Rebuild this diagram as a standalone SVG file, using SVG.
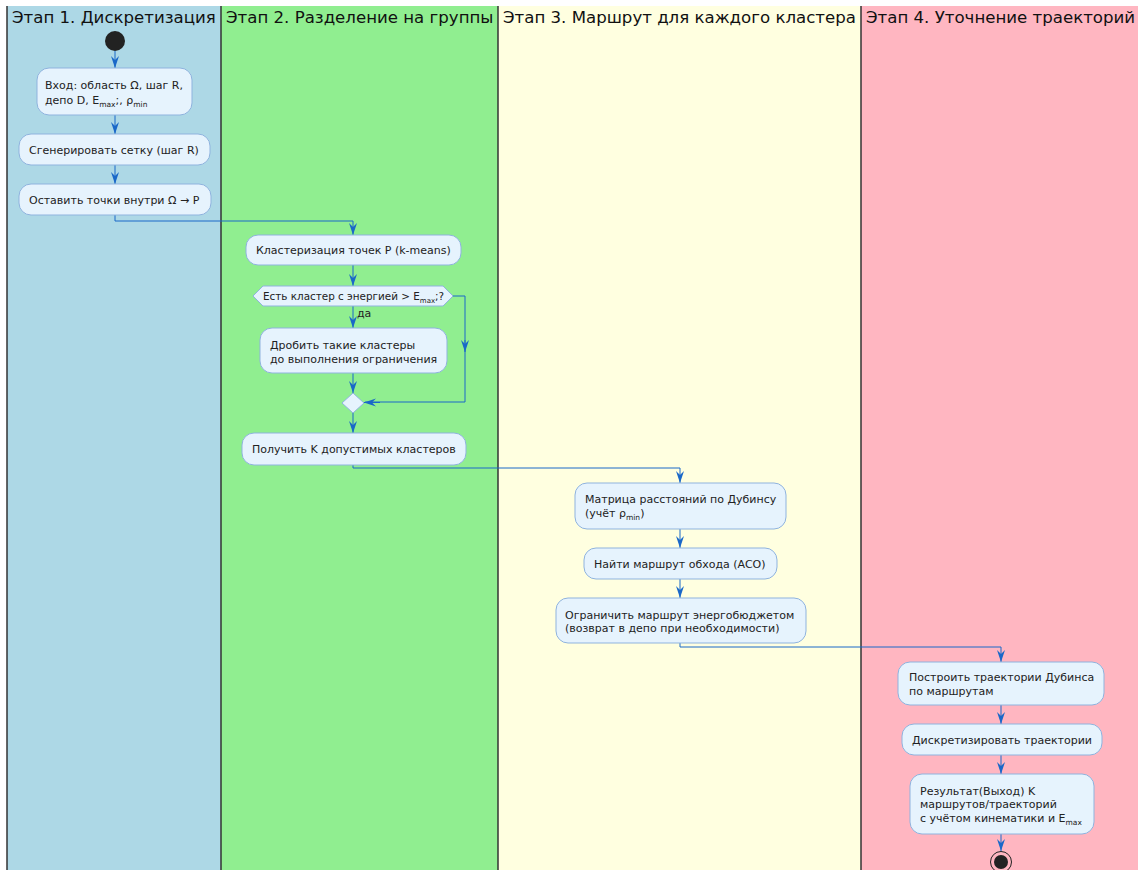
<svg xmlns="http://www.w3.org/2000/svg" width="1140" height="870" viewBox="0 0 1140 870">
<style>
.lane-title{font-family:"DejaVu Sans",sans-serif;font-size:16.6px;fill:#111}
.t{font-family:"DejaVu Sans",sans-serif;font-size:11px;fill:#222}
.sub{font-size:7.5px}
.box{fill:#E6F3FD;stroke:#8FB3DE;stroke-width:1}
.sep{stroke:#333;stroke-width:1.5}
.edge{fill:none;stroke:#1A68C8;stroke-width:1}
</style>
<defs>
<marker id="ah" viewBox="0 0 12 10" refX="12" refY="5" markerWidth="12" markerHeight="10" markerUnits="userSpaceOnUse" orient="auto">
<path d="M0,1 L4,5 L0,9 L12,5 Z" fill="#1A68C8"/>
</marker>
</defs>
<rect width="1140" height="870" fill="#ffffff"/>
<g id="lanes">
<rect x="7" y="6" width="214" height="864" fill="#ADD8E6"/>
<rect x="221" y="6" width="277" height="864" fill="#90EE90"/>
<rect x="498" y="6" width="363" height="864" fill="#FFFFE0"/>
<rect x="861" y="6" width="277" height="864" fill="#FFB6C1"/>
<line class="sep" x1="7" y1="6" x2="7" y2="870"/>
<line class="sep" x1="221" y1="6" x2="221" y2="870"/>
<line class="sep" x1="498" y1="6" x2="498" y2="870"/>
<line class="sep" x1="861" y1="6" x2="861" y2="870"/>
<text class="lane-title" x="12" y="23">Этап 1. Дискретизация</text>
<text class="lane-title" x="226" y="23">Этап 2. Разделение на группы</text>
<text class="lane-title" x="503" y="23">Этап 3. Маршрут для каждого кластера</text>
<text class="lane-title" x="866" y="23">Этап 4. Уточнение траекторий</text>
</g>
<g id="connectors">
<path class="edge" d="M115,51 V68" marker-end="url(#ah)"/>
<path class="edge" d="M115,115 V134" marker-end="url(#ah)"/>
<path class="edge" d="M115,165 V184" marker-end="url(#ah)"/>
<path class="edge" d="M115,215 V221 H353 V235" marker-end="url(#ah)"/>
<path class="edge" d="M353,265 V286" marker-end="url(#ah)"/>
<path class="edge" d="M353,306 V328" marker-end="url(#ah)"/>
<path class="edge" d="M353,373 V393" marker-end="url(#ah)"/>
<path class="edge" d="M453,296 H465 V402 H365"/>
<path class="edge" d="M465,340 V352" marker-end="url(#ah)"/>
<path class="edge" d="M380,402.5 H364" marker-end="url(#ah)"/>
<path class="edge" d="M353,413 V433" marker-end="url(#ah)"/>
<path class="edge" d="M353,465 V468 H680 V483" marker-end="url(#ah)"/>
<path class="edge" d="M680,529 V548" marker-end="url(#ah)"/>
<path class="edge" d="M680,579 V598" marker-end="url(#ah)"/>
<path class="edge" d="M680,643 V647 H1001 V662" marker-end="url(#ah)"/>
<path class="edge" d="M1001,705 V724" marker-end="url(#ah)"/>
<path class="edge" d="M1001,755 V774" marker-end="url(#ah)"/>
<path class="edge" d="M1001,834 V851" marker-end="url(#ah)"/>
<text class="t" x="357" y="317">да</text>
</g>
<g id="start"><circle cx="115" cy="41" r="10" fill="#222"/></g>
<g id="n1">
<rect class="box" x="37" y="68" width="155" height="47" rx="12"/>
<text class="t" x="45" y="89">Вход: область Ω, шаг R,</text>
<text class="t" x="45" y="104">депо D, E<tspan class="sub" dy="3">max</tspan><tspan dy="-3">;, ρ</tspan><tspan class="sub" dy="3">min</tspan></text>
</g>
<g id="n2">
<rect class="box" x="19" y="134" width="191" height="31" rx="12"/>
<text class="t" x="29" y="154">Сгенерировать сетку (шаг R)</text>
</g>
<g id="n3">
<rect class="box" x="19" y="184" width="192" height="31" rx="12"/>
<text class="t" x="29" y="204">Оставить точки внутри Ω → P</text>
</g>
<g id="n4">
<rect class="box" x="246" y="235" width="215" height="30" rx="12"/>
<text class="t" x="256" y="254">Кластеризация точек P (k-means)</text>
</g>
<g id="d1">
<polygon class="box" points="253,296 263,286 443,286 453,296 443,306 263,306"/>
<text class="t" x="263" y="300" style="font-size:10.4px">Есть кластер с энергией &gt; E<tspan class="sub" dy="3" style="font-size:7px">max</tspan><tspan dy="-3">;?</tspan></text>
</g>
<g id="n5">
<rect class="box" x="260" y="328" width="187" height="45" rx="12"/>
<text class="t" x="270" y="349">Дробить такие кластеры</text>
<text class="t" x="270" y="363">до выполнения ограничения</text>
</g>
<g id="m1">
<polygon class="box" points="353,393 364,403 353,413 342,403"/>
</g>
<g id="n6">
<rect class="box" x="242" y="433" width="224" height="32" rx="12"/>
<text class="t" x="252" y="453">Получить K допустимых кластеров</text>
</g>
<g id="n7">
<rect class="box" x="575" y="483" width="211" height="46" rx="12"/>
<text class="t" x="585" y="503">Матрица расстояний по Дубинсу</text>
<text class="t" x="585" y="517">(учёт ρ<tspan class="sub" dy="3">min</tspan><tspan dy="-3">)</tspan></text>
</g>
<g id="n8">
<rect class="box" x="584" y="548" width="193" height="31" rx="12"/>
<text class="t" x="594" y="568">Найти маршрут обхода (ACO)</text>
</g>
<g id="n9">
<rect class="box" x="556" y="598" width="250" height="45" rx="12"/>
<text class="t" x="565" y="619">Ограничить маршрут энергобюджетом</text>
<text class="t" x="565" y="632">(возврат в депо при необходимости)</text>
</g>
<g id="n10">
<rect class="box" x="898" y="662" width="206" height="43" rx="12"/>
<text class="t" x="909" y="681">Построить траектории Дубинса</text>
<text class="t" x="909" y="695">по маршрутам</text>
</g>
<g id="n11">
<rect class="box" x="902" y="724" width="200" height="31" rx="12"/>
<text class="t" x="912" y="744">Дискретизировать траектории</text>
</g>
<g id="n12">
<rect class="box" x="910" y="774" width="184" height="60" rx="12"/>
<text class="t" x="920" y="795">Результат(Выход) K</text>
<text class="t" x="920" y="808">маршрутов/траекторий</text>
<text class="t" x="920" y="822">с учётом кинематики и E<tspan class="sub" dy="3">max</tspan></text>
</g>
<g id="end">
<circle cx="1001" cy="862" r="10.5" fill="none" stroke="#222" stroke-width="1"/>
<circle cx="1001" cy="862" r="7" fill="#222"/>
</g>
</svg>
